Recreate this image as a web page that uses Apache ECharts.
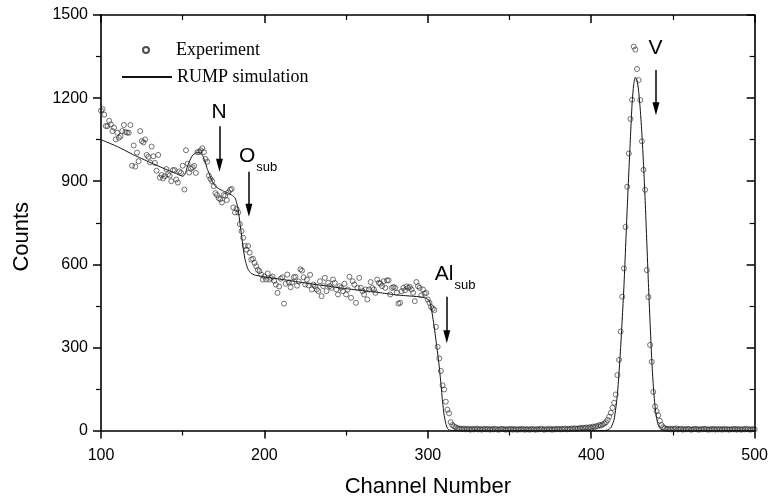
<!DOCTYPE html>
<html><head><meta charset="utf-8">
<script src="https://cdn.jsdelivr.net/npm/echarts@6/dist/echarts.min.js"></script>
<style>html,body{margin:0;padding:0;background:#fff}#c{width:771px;height:503px}</style>
</head><body><div id="c"></div>
<script>
// Experimental spectrum: one count per channel, starting at channel 100
const expStartChannel = 100;
const expCounts = [
  1155, 1160, 1140, 1099, 1099, 1118, 1105, 1081, 1093, 1051, // 100
  1075, 1057, 1063, 1081, 1103, 1078, 1075, 1075, 1103, 956,  // 110
  1029, 953, 1003, 972, 1081, 1045, 1040, 1051, 995, 988,     // 120
  968, 1025, 990, 966, 938, 995, 913, 922, 910, 918,          // 130
  944, 925, 920, 900, 940, 940, 906, 895, 935, 930,           // 140
  956, 870, 1012, 963, 931, 945, 950, 955, 930, 1005,         // 150
  1005, 1011, 1019, 1005, 980, 970, 920, 908, 900, 882,       // 160
  857, 850, 839, 835, 823, 850, 847, 832, 860, 869,           // 170
  872, 805, 787, 800, 787, 745, 720, 696, 666, 653,           // 180
  666, 642, 617, 620, 605, 593, 580, 575, 563, 545,           // 190
  556, 545, 567, 545, 551, 556, 540, 527, 497, 520,           // 200
  548, 553, 458, 530, 563, 535, 517, 535, 553, 555,           // 210
  523, 538, 582, 577, 553, 527, 545, 524, 562, 509,           // 220
  527, 521, 509, 503, 539, 485, 521, 551, 503, 533,           // 230
  521, 515, 545, 533, 509, 491, 521, 515, 503, 530,           // 240
  491, 509, 555, 479, 539, 527, 461, 515, 551, 515,           // 250
  503, 491, 509, 473, 509, 536, 515, 509, 497, 545,           // 260
  533, 530, 521, 539, 515, 542, 542, 491, 515, 518,           // 270
  515, 497, 458, 461, 503, 515, 506, 520, 515, 518,           // 280
  509, 497, 467, 536, 521, 515, 488, 509, 494, 497,           // 290
  473, 461, 446, 440, 435, 374, 302, 260, 215, 163,           // 300
  148, 104, 75, 62, 30, 20, 15, 12, 8, 7,                     // 310
  6, 5, 7, 4, 6, 5, 3, 6, 4, 5,                               // 320
  7, 4, 5, 3, 6, 5, 4, 6, 3, 5,                               // 330
  4, 6, 5, 3, 4, 6, 5, 4, 3, 5,                               // 340
  4, 6, 3, 5, 4, 3, 5, 4, 6, 3,                               // 350
  4, 5, 3, 4, 6, 4, 3, 5, 4, 6,                               // 360
  5, 3, 4, 5, 4, 6, 3, 5, 4, 6,                               // 370
  5, 4, 6, 5, 7, 4, 6, 5, 7, 6,                               // 380
  8, 6, 7, 9, 7, 10, 8, 11, 9, 12,                            // 390
  10, 14, 12, 16, 15, 20, 18, 22, 25, 30,                     // 400
  38, 50, 64, 82, 100, 130, 200, 255, 357, 483,               // 410
  585, 735, 880, 1000, 1125, 1194, 1386, 1375, 1305, 1265,    // 420
  1193, 1044, 941, 869, 579, 482, 309, 248, 139, 87,          // 430
  70, 55, 35, 20, 12, 8, 6, 5, 7, 4,                          // 440
  6, 5, 8, 4, 5, 6, 3, 5, 4, 6,                               // 450
  5, 3, 4, 5, 6, 4, 3, 5, 4, 6,                               // 460
  5, 4, 3, 5, 4, 6, 3, 5, 4, 5,                               // 470
  3, 6, 4, 5, 3, 4, 5, 4, 6, 3,                               // 480
  5, 4, 3, 5, 4, 6, 5, 3, 4, 5,                               // 490
  4                                                           // 500
];

// RUMP simulation curve
const simChannels = [100, 110, 120, 130, 140, 145, 148, 150, 151, 152, 153, 154, 155, 156, 158,
  160, 162, 163, 164, 165, 166, 167, 168, 169, 170, 172, 175, 178, 180, 182, 183, 184, 185, 186,
  187, 188, 189, 190, 191, 192, 194, 197, 200, 210, 220, 230, 240, 250, 260, 270, 280, 290, 296,
  299, 301, 302, 303, 304, 305, 306, 307, 308, 309, 310, 311, 312, 313, 315, 320, 340, 360, 380,
  400, 408, 410, 412, 414, 416, 418, 420, 422, 424, 425, 426, 427, 428, 429, 430, 431, 432, 433,
  434, 435, 436, 437, 438, 439, 440, 441, 442, 444, 450, 470, 500];
const simCounts = [1050, 1025, 995, 968, 942, 930, 922, 918, 922, 935, 955, 970, 983, 993, 1002,
  1004, 995, 982, 965, 945, 930, 915, 900, 890, 882, 873, 864, 857, 850, 840, 822, 795, 750, 705,
  660, 622, 598, 582, 573, 567, 561, 558, 555, 546, 537, 528, 520, 512, 505, 498, 490, 485, 482,
  477, 468, 445, 410, 370, 325, 280, 230, 170, 105, 55, 25, 8, 2, 0, 0, 0, 0, 0,
  0, 0, 2, 10, 40, 130, 300, 520, 800, 1060, 1180, 1250, 1275, 1265, 1225, 1160, 1070, 960, 830,
  680, 530, 390, 260, 160, 90, 45, 20, 8, 0, 0, 0, 0];

const seriesNames = ['Experiment', 'RUMP simulation'];
const xAxisTitle = 'Channel Number';
const yAxisTitle = 'Counts';

// Element annotations (label anchor in data units) and arrows
const annotMain = ['N', 'O', 'Al', 'V'];
const annotSub = ['', 'sub', 'sub', ''];
const annotX = [172.3, 196.1, 316.7, 439.3];
const annotY = [1148, 987, 561, 1378];
const arrowX = [172.5, 190.5, 311.6, 439.6];
const arrowTop = [1098, 934, 483, 1301];
const arrowHead = [958, 795, 338, 1162];

const chart = echarts.init(document.getElementById('c'), null, {renderer: 'canvas'});
const SANS = 'Liberation Sans, Arial, sans-serif';
const SERIF = 'Liberation Serif, Times New Roman, serif';
const AX = '#000';

const expData = expCounts.map((v, i) => [expStartChannel + i, v]);
const simData = simChannels.map((c, i) => [c, simCounts[i]]);
const annotData = annotMain.map((m, i) => ({
  coord: [annotX[i], annotY[i]],
  label: {formatter: annotSub[i] ? '{m|' + m + '}{s|' + annotSub[i] + '}' : '{m|' + m + '}'}
}));
const arrowData = arrowX.map((x, i) => [{coord: [x, arrowTop[i]]}, {coord: [x, arrowHead[i]]}]);

function xAx(pos, show) {
  return {
    type: 'value', position: pos, min: 100, max: 500, interval: 100,
    axisLine: {show: true, onZero: false, lineStyle: {color: AX, width: 1.6}},
    axisTick: {show: true, inside: !show, length: 8, lineStyle: {color: AX, width: 1.5}},
    minorTick: {show: true, splitNumber: 2, length: 5, lineStyle: {color: AX, width: 1.2}},
    splitLine: {show: false},
    axisLabel: {show: show, margin: 17, color: '#000', fontSize: 16, fontFamily: SANS,
      formatter: v => String(v)},
    name: show ? xAxisTitle : '', nameLocation: 'middle', nameGap: 45,
    nameTextStyle: {fontSize: 22, fontFamily: SANS, color: '#000'}
  };
}
function yAx(pos, show) {
  return {
    type: 'value', position: pos, min: 0, max: 1500, interval: 300,
    axisLine: {show: true, onZero: false, lineStyle: {color: AX, width: 1.6}},
    axisTick: {show: true, inside: !show, length: 8, lineStyle: {color: AX, width: 1.5}},
    minorTick: {show: true, splitNumber: 2, length: 5, lineStyle: {color: AX, width: 1.2}},
    splitLine: {show: false},
    axisLabel: {show: show, margin: 13, color: '#000', fontSize: 16, fontFamily: SANS,
      formatter: v => String(v)},
    name: show ? yAxisTitle : '', nameLocation: 'middle', nameGap: 68, nameRotate: 90,
    nameTextStyle: {fontSize: 22, fontFamily: SANS, color: '#000', padding: [0, 28, 0, 0]}
  };
}

chart.setOption({
  animation: false,
  backgroundColor: '#fff',
  grid: {left: 101, right: 16, top: 15, bottom: 72.5, containLabel: false},
  xAxis: [xAx('bottom', true), xAx('top', false)],
  yAxis: [yAx('left', true), yAx('right', false)],
  legend: [
    {data: [seriesNames[0]], left: 142, top: 40, padding: 0, itemWidth: 50, itemHeight: 6,
     selectedMode: false, textStyle: {fontFamily: SERIF, fontSize: 18, color: '#000', lineHeight: 20}},
    {data: [{name: seriesNames[1], itemStyle: {opacity: 0}}], left: 121, top: 67, padding: 0,
     itemWidth: 50, itemHeight: 14, selectedMode: false,
     textStyle: {fontFamily: SERIF, fontSize: 18, color: '#000', lineHeight: 20}}
  ],
  series: [
    {
      name: seriesNames[1], type: 'line', data: simData, symbol: 'none', smooth: 0.2,
      lineStyle: {color: '#111', width: 1}, itemStyle: {color: '#000'}, silent: true, z: 2,
      markPoint: {
        silent: true, animation: false, symbol: 'circle', symbolSize: 0.1,
        itemStyle: {color: '#000'},
        label: {
          show: true, position: 'inside', color: '#000', textBorderWidth: 0,
          rich: {
            m: {fontSize: 21, fontFamily: SANS, color: '#000', lineHeight: 22, verticalAlign: 'top'},
            s: {fontSize: 13, fontFamily: SANS, color: '#000', lineHeight: 13, verticalAlign: 'top', padding: [15, 0, 0, 1]}
          }
        },
        emphasis: {disabled: true},
        data: annotData
      },
      markLine: {
        silent: true, animation: false,
        symbol: ['none', 'triangle'], symbolSize: [7, 13],
        label: {show: false},
        lineStyle: {color: '#000', width: 1.5, type: 'solid'},
        emphasis: {disabled: true},
        data: arrowData
      }
    },
    {
      name: seriesNames[0], type: 'scatter', data: expData, symbol: 'circle', symbolSize: 5,
      itemStyle: {color: 'rgba(255,255,255,0)', borderColor: '#222', borderWidth: 0.8},
      silent: true, z: 3
    }
  ]
});
</script></body></html>
